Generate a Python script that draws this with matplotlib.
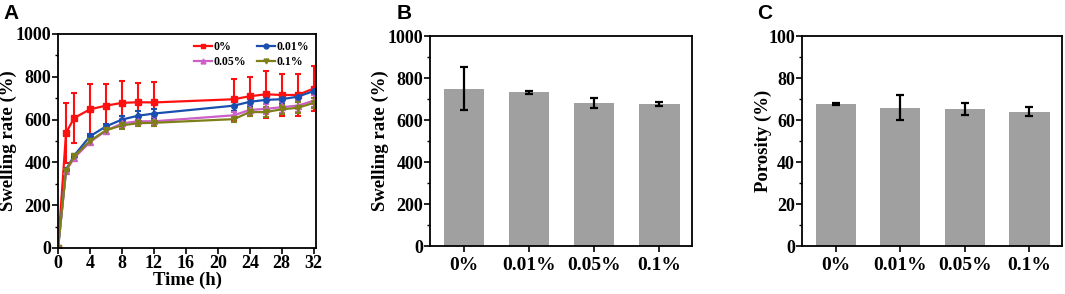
import numpy as np
import matplotlib.pyplot as plt
from matplotlib.lines import Line2D
from matplotlib.ticker import MultipleLocator

plt.rcParams['font.family'] = 'Liberation Serif'
plt.rcParams['font.weight'] = 'bold'
plt.rcParams['axes.labelweight'] = 'bold'

# panel A: swelling over time
time_h = [0, 1, 2, 4, 6, 8, 10, 12, 22, 24, 26, 28, 30, 32]
sw_0 = [0, 537, 607, 648, 665, 678, 681, 680, 695, 709, 718, 715, 715, 745]
sw_0_err = [0, 140, 117, 120, 102, 100, 90, 95, 95, 90, 110, 100, 100, 105]
sw_001 = [0, 366, 431, 522, 568, 600, 618, 628, 665, 683, 692, 695, 707, 733]
sw_001_err = [0, 10, 10, 12, 12, 18, 20, 22, 25, 20, 18, 18, 15, 12]
sw_005 = [0, 360, 420, 495, 548, 582, 592, 592, 620, 645, 650, 658, 665, 688]
sw_005_err = [0, 10, 12, 15, 15, 20, 22, 20, 15, 25, 25, 25, 28, 28]
sw_01 = [0, 362, 428, 500, 550, 573, 583, 585, 602, 635, 635, 648, 655, 678]
sw_01_err = [0, 10, 12, 12, 12, 15, 15, 15, 12, 20, 22, 20, 25, 25]

# panels B and C
groups = ['0%', '0.01%', '0.05%', '0.1%']
swell = [750, 733, 682, 678]
swell_err = [103, 8, 24, 10]
porosity = [67.5, 66.0, 65.2, 64.0]
porosity_err = [0.5, 5.8, 2.8, 2.2]

fig = plt.figure(figsize=(10.65, 2.94), dpi=100)

def style(ax):
    for s in ax.spines.values():
        s.set_linewidth(1.3)
    ax.tick_params(direction='out', width=1.2, length=4, labelsize=13, pad=1)
    ax.tick_params(which='minor', direction='out', width=1, length=2.5)
    for lab in ax.get_xticklabels() + ax.get_yticklabels():
        lab.set_fontweight('bold')

# A
axA = fig.add_axes([0.0545, 0.1565, 0.2423, 0.728])
series = [
    (sw_0, sw_0_err, '0%', '#ff1010', 's'),
    (sw_001, sw_001_err, '0.01%', '#1a4fb0', 'o'),
    (sw_005, sw_005_err, '0.05%', '#cc60c8', '^'),
    (sw_01, sw_01_err, '0.1%', '#7f7f1a', 'v'),
]
handles = {}
for y, e, lab, c, m in series:
    axA.errorbar(time_h, y, yerr=e, color=c, marker=m, markersize=4, lw=1.6,
                 elinewidth=1.5, capsize=2.5, capthick=1.5)
    handles[lab] = Line2D([], [], color=c, marker=m, markersize=3.5, lw=1.6)
axA.set_xlim(0, 32.3)
axA.set_ylim(0, 1000)
axA.set_xticks(np.arange(0, 33, 4))
axA.yaxis.set_major_locator(MultipleLocator(200))
axA.yaxis.set_minor_locator(MultipleLocator(100))
axA.set_xlabel('Time (h)', fontsize=13.5, labelpad=0)
axA.set_ylabel('Swelling rate (%)', fontsize=13.5)
axA.yaxis.set_label_coords(-0.16, 0.5)
order = ['0%', '0.05%', '0.01%', '0.1%']
axA.legend([handles[k] for k in order], order, ncol=2, loc='upper right',
           frameon=False, fontsize=8.5, handlelength=1.5, handletextpad=0.15,
           columnspacing=0.9, labelspacing=0.25, borderaxespad=0.2,
           bbox_to_anchor=(1.0, 1.0))
style(axA)

xpos = np.arange(len(groups))

# B
axB = fig.add_axes([0.4038, 0.163, 0.246, 0.714])
axB.bar(xpos, swell, width=0.62, color='#a0a0a0')
axB.errorbar(xpos, swell, yerr=swell_err, fmt='none', ecolor='black',
             elinewidth=1.6, capsize=3, capthick=1.6)
axB.set_xlim(-0.52, 3.5)
axB.set_ylim(0, 1000)
axB.set_xticks(xpos)
axB.set_xticklabels(groups)
axB.yaxis.set_major_locator(MultipleLocator(200))
axB.yaxis.set_minor_locator(MultipleLocator(100))
axB.set_ylabel('Swelling rate (%)', fontsize=13.5)
axB.yaxis.set_label_coords(-0.155, 0.5)
style(axB)
axB.tick_params(axis='x', labelsize=14, pad=4)

# C
axC = fig.add_axes([0.753, 0.163, 0.244, 0.714])
axC.bar(xpos, porosity, width=0.62, color='#a0a0a0')
axC.errorbar(xpos, porosity, yerr=porosity_err, fmt='none', ecolor='black',
             elinewidth=1.6, capsize=3, capthick=1.6)
axC.set_xlim(-0.52, 3.5)
axC.set_ylim(0, 100)
axC.set_xticks(xpos)
axC.set_xticklabels(groups)
axC.yaxis.set_major_locator(MultipleLocator(20))
axC.yaxis.set_minor_locator(MultipleLocator(10))
axC.set_ylabel('Porosity (%)', fontsize=13.5)
axC.yaxis.set_label_coords(-0.115, 0.5)
style(axC)
axC.tick_params(axis='x', labelsize=14, pad=4)

for x, t in [(0.003, 'A'), (0.372, 'B'), (0.711, 'C')]:
    fig.text(x, 0.985, t, fontsize=15, fontweight='bold', family='Liberation Sans',
             va='top', ha='left')

fig.savefig('out.png', dpi=100)
